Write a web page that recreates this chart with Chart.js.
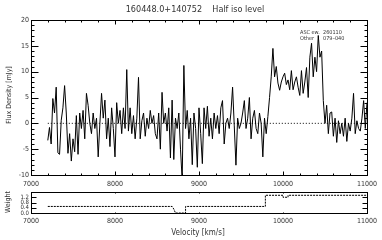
<!DOCTYPE html>
<html>
<head>
<meta charset="utf-8">
<script src="https://cdn.jsdelivr.net/npm/chart.js@4/dist/chart.umd.min.js"></script>
<style>
  body { margin: 0; background: #fff; }
  #wrap { position: relative; width: 382px; height: 240px; }
  canvas { position: absolute; left: 0; }
</style>
</head>
<body>
<div id="wrap">
  <canvas id="specChart" width="382" height="190" style="top:0;width:382px;height:190px"></canvas>
  <canvas id="weightChart" width="382" height="54" style="top:186px;width:382px;height:54px"></canvas>
</div>
<script>
// spectrum channels (km/s)
const velStart = 7200
const velStep = 20
// flux density per channel, mJy
const fluxDensity = [
  -3.3, -0.8, -4, 4.8, 2, 7, -5.7, -6, 0.6, 3,
  7.3, 2, -5.8, -2, -7.3, -3, -5.5, 1.5, -6, 2,
  -1, 2.5, -3, 5.8, 3.5, 0, -2, 2, -1, 1,
  -6.5, 0, 5.8, 1, 4.5, -3, 1, -4.5, 3, -1,
  -6.5, 4, 0, 2.5, -2, 3, -1, 10.4, -1.5, 3,
  -2, 1.5, -3, 1, 8.9, -3, 0.5, 2, -2.5, 1,
  -1, 2.5, 0, 1.5, -2, -3, 2, -5, 6, 0,
  2, -1.5, 3, -6.7, 4.5, -7, 1, -1, 2, -5,
  -11, 11.2, -1, 2.5, -3, 1, -8, 2, -1, -8.5,
  3, -2, -7.8, 3, -1, 3.3, -2.5, 1, -3, 2,
  -1, 1.5, -2, 3, 4.4, -4, 0, 1, -1, 2,
  7, -0.5, -8.1, 1, -1, 0, 2, 4.4, -1, 1,
  5, -3, 1, 2.5, -1, -2, 2, 0, -6.5, 1,
  -2, 1.3, 5, 9, 14.5, 9, 11, 7.8, 6.4, 8,
  9, 9.7, 7.5, 8.4, 6.5, 10.2, 6.5, 8, 9, 7,
  5.4, 10.2, 5.8, 8, 10.8, 5, 12.8, 15.5, 9, 12.8,
  10, 17, 12.8, 14, 4.4, 0, 3.5, -2, 2, 2.2,
  -2.5, 1, -3.7, 0.5, -2, 0, -2.5, 1, -3.5, 0,
  -1.5, 1, 5.8, -2, 0.5, -1, -1.5, 1, 4.4, -1,
  4
]
// zero level
const zeroVel = [7200, 11000]
const zeroVal = [0, 0]
// weight panel
const weightVel = [7200, 8680, 8700, 8720, 8840, 8840, 9790, 9790, 10000, 10000, 10060, 10060, 11000]
const weightVal = [0.5, 0.5, 0.3, 0, 0, 0.5, 0.5, 1.35, 1.35, 1.2, 1.2, 1.35, 1.35]

const titleText = '160448.0+140752    Half iso level'
const noteRows = [['ASC ew.', '260110'], ['Other', '079\u2013040']]

const fam = "'Liberation Sans Narrow', 'DejaVu Sans Condensed', 'Liberation Sans', sans-serif"
const txtColor = '#333'

const specPoints = fluxDensity.map((f, i) => ({ x: velStart + i * velStep, y: f }))
const zeroPoints = zeroVel.map((v, i) => ({ x: v, y: zeroVal[i] }))
const weightPoints = weightVel.map((v, i) => ({ x: v, y: weightVal[i] }))

// IDL style box with inward ticks + free text
const idlFrame = {
  id: 'idlFrame',
  afterDatasetsDraw(chart, args, o) {
    const { ctx, chartArea: a, scales: { x, y } } = chart
    ctx.save()
    ctx.strokeStyle = '#000'
    ctx.lineWidth = 1
    const L = Math.round(a.left) + 0.5, R = Math.round(a.right) + 0.5
    const T = Math.round(a.top) + 0.5, B = Math.round(a.bottom) + 0.5
    ctx.strokeRect(L, T, R - L, B - T)
    ctx.beginPath()
    const isMajor = (v, step) => Math.abs(v / step - Math.round(v / step)) < 1e-6
    for (let v = x.min; v <= x.max + 1e-6; v += o.xMinor) {
      const p = Math.round(x.getPixelForValue(v)) + 0.5
      const len = isMajor(v, o.xMajor) ? o.xMajorLen : o.xMinorLen
      if (!len) continue
      ctx.moveTo(p, B); ctx.lineTo(p, B - len)
      ctx.moveTo(p, T); ctx.lineTo(p, T + len)
    }
    for (let v = y.min; v <= y.max + 1e-6; v += o.yMinor) {
      const p = Math.round(y.getPixelForValue(v)) + 0.5
      const len = isMajor(v, o.yMajor) ? o.yMajorLen : o.yMinorLen
      if (!len) continue
      ctx.moveTo(L, p); ctx.lineTo(L + len, p)
      ctx.moveTo(R, p); ctx.lineTo(R - len, p)
    }
    ctx.stroke()
    ctx.fillStyle = txtColor
    ctx.textBaseline = 'middle'
    o.texts.forEach(t => {
      ctx.save()
      ctx.font = t.size + 'px ' + fam
      ctx.textAlign = t.align || 'center'
      ctx.translate(t.x, t.y)
      if (t.rot) ctx.rotate(t.rot)
      ctx.fillText(t.text, 0, 0)
      ctx.restore()
    })
    ctx.restore()
  }
}

const specCtx = document.getElementById('specChart').getContext('2d')
new Chart(specCtx, {
  type: 'line',
  data: {
    datasets: [
      {
        data: specPoints,
        borderColor: '#000',
        borderWidth: 1,
        pointRadius: 0,
        tension: 0
      },
      {
        data: zeroPoints,
        borderColor: '#000',
        borderWidth: 1,
        borderDash: [1, 2],
        pointRadius: 0
      }
    ]
  },
  options: {
    responsive: false,
    animation: false,
    layout: { padding: { top: 20, right: 15, left: 0, bottom: 0 } },
    plugins: {
      legend: { display: false },
      tooltip: { enabled: false },
      idlFrame: {
        xMajor: 1000, xMinor: 200, xMajorLen: 4, xMinorLen: 2,
        yMajor: 5, yMinor: 1, yMajorLen: 7, yMinorLen: 3,
        texts: [
          { text: titleText, x: 195, y: 10, size: 9 },
          { text: noteRows[0][0], x: 300, y: 33, size: 5.5, align: 'left' },
          { text: noteRows[0][1], x: 323, y: 33, size: 5.5, align: 'left' },
          { text: noteRows[1][0], x: 300, y: 38.5, size: 5.5, align: 'left' },
          { text: noteRows[1][1], x: 323, y: 38.5, size: 5.5, align: 'left' },
          { text: 'Flux Density [mJy]', x: 9, y: 95, size: 7, rot: -Math.PI / 2 }
        ]
      }
    },
    scales: {
      x: {
        type: 'linear',
        min: 7000,
        max: 11000,
        grid: { display: false, drawTicks: false },
        border: { display: false },
        ticks: { stepSize: 1000, padding: 5, maxRotation: 0, color: txtColor, font: { family: fam, size: 7 }, callback: v => String(v) },
        afterFit: s => { s.height = 15 }
      },
      y: {
        min: -10,
        max: 20,
        grid: { display: false, drawTicks: false },
        border: { display: false },
        ticks: { stepSize: 5, padding: 2, color: txtColor, font: { family: fam, size: 7 } },
        afterFit: s => { s.width = 31 }
      }
    }
  },
  plugins: [idlFrame]
})

const weightCtx = document.getElementById('weightChart').getContext('2d')
new Chart(weightCtx, {
  type: 'line',
  data: {
    datasets: [{
      data: weightPoints,
      borderColor: '#000',
      borderWidth: 1,
      borderDash: [2, 1],
      pointRadius: 0
    }]
  },
  options: {
    responsive: false,
    animation: false,
    layout: { padding: { top: 6, right: 15, left: 0, bottom: 0 } },
    plugins: {
      legend: { display: false },
      tooltip: { enabled: false },
      idlFrame: {
        xMajor: 1000, xMinor: 1000, xMajorLen: 1, xMinorLen: 1,
        yMajor: 0.4, yMinor: 0.4, yMajorLen: 5, yMinorLen: 5,
        texts: [
          { text: 'Weight', x: 8, y: 16, size: 7, rot: -Math.PI / 2 },
          { text: 'Velocity [km/s]', x: 198, y: 47, size: 8 }
        ]
      }
    },
    scales: {
      x: {
        type: 'linear',
        min: 7000,
        max: 11000,
        grid: { display: false, drawTicks: false },
        border: { display: false },
        ticks: { stepSize: 1000, padding: 4, maxRotation: 0, color: txtColor, font: { family: fam, size: 7 }, callback: v => String(v) },
        afterFit: s => { s.height = 27 }
      },
      y: {
        min: 0,
        max: 1.6,
        grid: { display: false, drawTicks: false },
        border: { display: false },
        ticks: {
          stepSize: 0.4,
          autoSkip: false,
          padding: 2,
          color: txtColor,
          font: { family: fam, size: 6 },
          callback: v => (v > 1.3 ? '' : v.toFixed(1))
        },
        afterFit: s => { s.width = 31 }
      }
    }
  },
  plugins: [idlFrame]
})
</script>
</body>
</html>
